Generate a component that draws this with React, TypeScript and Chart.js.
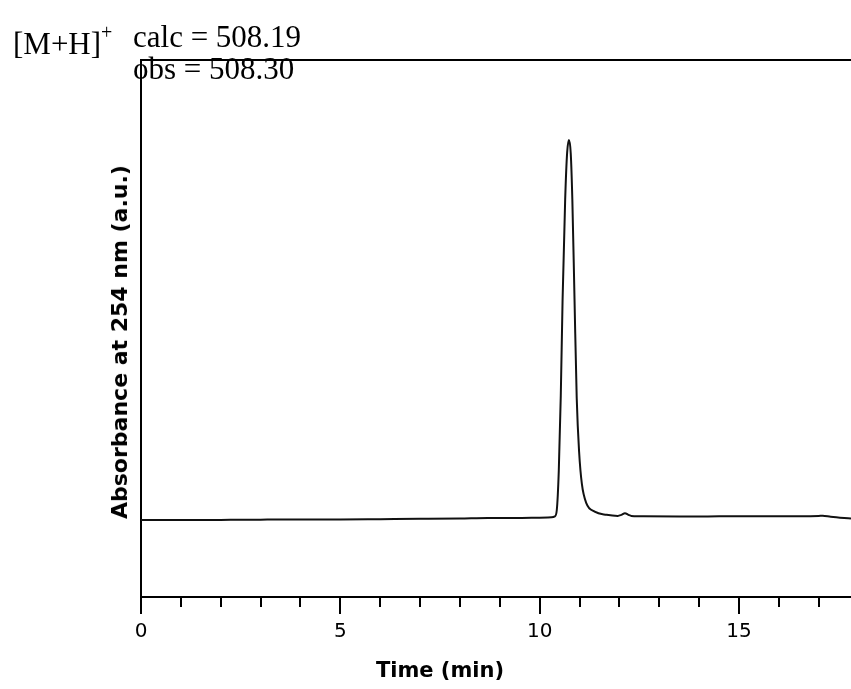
import React, { useEffect, useRef } from "react";
import { Chart, registerables } from "chart.js";

Chart.register(...registerables);

const times = [
  0, 1, 2, 3, 3.4, 4, 5, 6, 7, 8, 8.7, 9, 10, 10.3, 10.38, 10.43, 10.48, 10.53,
  10.575, 10.64, 10.69, 10.735, 10.78, 10.82, 10.875, 10.93, 10.99, 11.06,
  11.17, 11.38, 11.68, 11.96, 12.05, 12.14, 12.23, 12.3, 12.5, 13.5, 14.5, 15.5,
  16.5, 17.0, 17.1, 17.3, 17.81,
];
const absorbance = [
  14.34, 14.34, 14.36, 14.4, 14.45, 14.42, 14.45, 14.5, 14.55, 14.62, 14.72,
  14.7, 14.78, 14.85, 15.0, 16.2, 23.5, 37.5, 55.3, 74.0, 82.8, 85.1, 82.6,
  74.0, 55.3, 37.0, 27.0, 21.0, 17.5, 15.9, 15.3, 15.1, 15.3, 15.6, 15.3, 15.1,
  15.05, 15.0, 15.02, 15.05, 15.05, 15.1, 15.15, 14.95, 14.6,
];
const xMajorTicks = [0, 5, 10, 15];
const xMin = 0;
const xMax = 17.81;
const yMin = 0;
const yMax = 100;
const xTitle = "Time (min)";
const yTitle = "Absorbance at 254 nm (a.u.)";

export default function App() {
  const ref = useRef<HTMLCanvasElement>(null);

  useEffect(() => {
    if (!ref.current) return;
    const chart = new Chart(ref.current, {
      type: "line",
      data: {
        datasets: [
          {
            data: times.map((t, i) => ({ x: t, y: absorbance[i] })),
            borderColor: "#111",
            borderWidth: 2,
            pointRadius: 0,
            fill: false,
            cubicInterpolationMode: "monotone",
          },
        ],
      },
      options: {
        responsive: false,
        animation: false,
        events: [],
        layout: { padding: { left: 141, top: 60, right: 0, bottom: 0 } },
        plugins: { legend: { display: false }, tooltip: { enabled: false } },
        scales: {
          x: {
            type: "linear",
            position: "bottom",
            weight: 10,
            min: xMin,
            max: xMax,
            afterBuildTicks: (s: any) => {
              s.ticks = xMajorTicks.map((v) => ({ value: v }));
            },
            ticks: {
              autoSkip: false,
              maxRotation: 0,
              includeBounds: false,
              padding: 6,
              color: "#000",
              font: { family: "DejaVu Sans", size: 20 },
            },
            grid: {
              drawOnChartArea: false,
              tickLength: 17,
              color: "#000",
              lineWidth: 2,
            },
            border: { color: "#000", width: 2 },
            afterFit: (s: any) => {
              s.height = 92;
            },
          },
          xMinor: {
            type: "linear",
            position: "bottom",
            weight: 0,
            min: xMin,
            max: xMax,
            ticks: { display: false, stepSize: 1, includeBounds: false },
            grid: {
              drawOnChartArea: false,
              tickLength: 10,
              color: "#000",
              lineWidth: 2,
            },
            border: { display: false },
            afterFit: (s: any) => {
              s.height = 0;
            },
          },
          xTop: {
            type: "linear",
            position: "top",
            min: xMin,
            max: xMax,
            ticks: { display: false },
            grid: { display: false, drawTicks: false },
            border: { color: "#000", width: 2 },
            afterFit: (s: any) => {
              s.height = 0;
            },
          },
          y: {
            type: "linear",
            min: yMin,
            max: yMax,
            ticks: { display: false },
            grid: { display: false, drawTicks: false },
            border: { color: "#000", width: 2 },
            afterFit: (s: any) => {
              s.width = 0;
            },
          },
        },
      },
    });
    return () => chart.destroy();
  }, []);

  const serif: React.CSSProperties = {
    position: "absolute",
    fontFamily: "'Liberation Serif', 'Times New Roman', serif",
    fontSize: 31,
    lineHeight: "31px",
    whiteSpace: "nowrap",
    color: "#000",
  };
  const sansBold: React.CSSProperties = {
    position: "absolute",
    fontFamily: "'DejaVu Sans', sans-serif",
    fontWeight: "bold",
    fontSize: 21,
    lineHeight: "21px",
    whiteSpace: "nowrap",
    color: "#000",
  };

  return (
    <div
      style={{
        position: "absolute",
        left: 0,
        top: 0,
        width: 851,
        height: 689,
        overflow: "hidden",
        background: "#fff",
      }}
    >
      <canvas ref={ref} width={851} height={689} style={{ display: "block" }} />
      <div style={{ ...serif, left: 13, top: 21 }}>
        [M+H]<sup style={{ fontSize: 20, position: "relative", top: -4 }}>+</sup>
      </div>
      <div style={{ ...serif, left: 133, top: 21 }}>calc = 508.19</div>
      <div style={{ ...serif, left: 133, top: 53 }}>obs = 508.30</div>
      <div style={{ ...sansBold, left: 440, top: 670, transform: "translate(-50%, -50%)" }}>
        {xTitle}
      </div>
      <div
        style={{
          ...sansBold,
          fontSize: 22,
          lineHeight: "22px",
          left: 120,
          top: 342,
          transform: "translate(-50%, -50%) rotate(-90deg)",
        }}
      >
        {yTitle}
      </div>
    </div>
  );
}
